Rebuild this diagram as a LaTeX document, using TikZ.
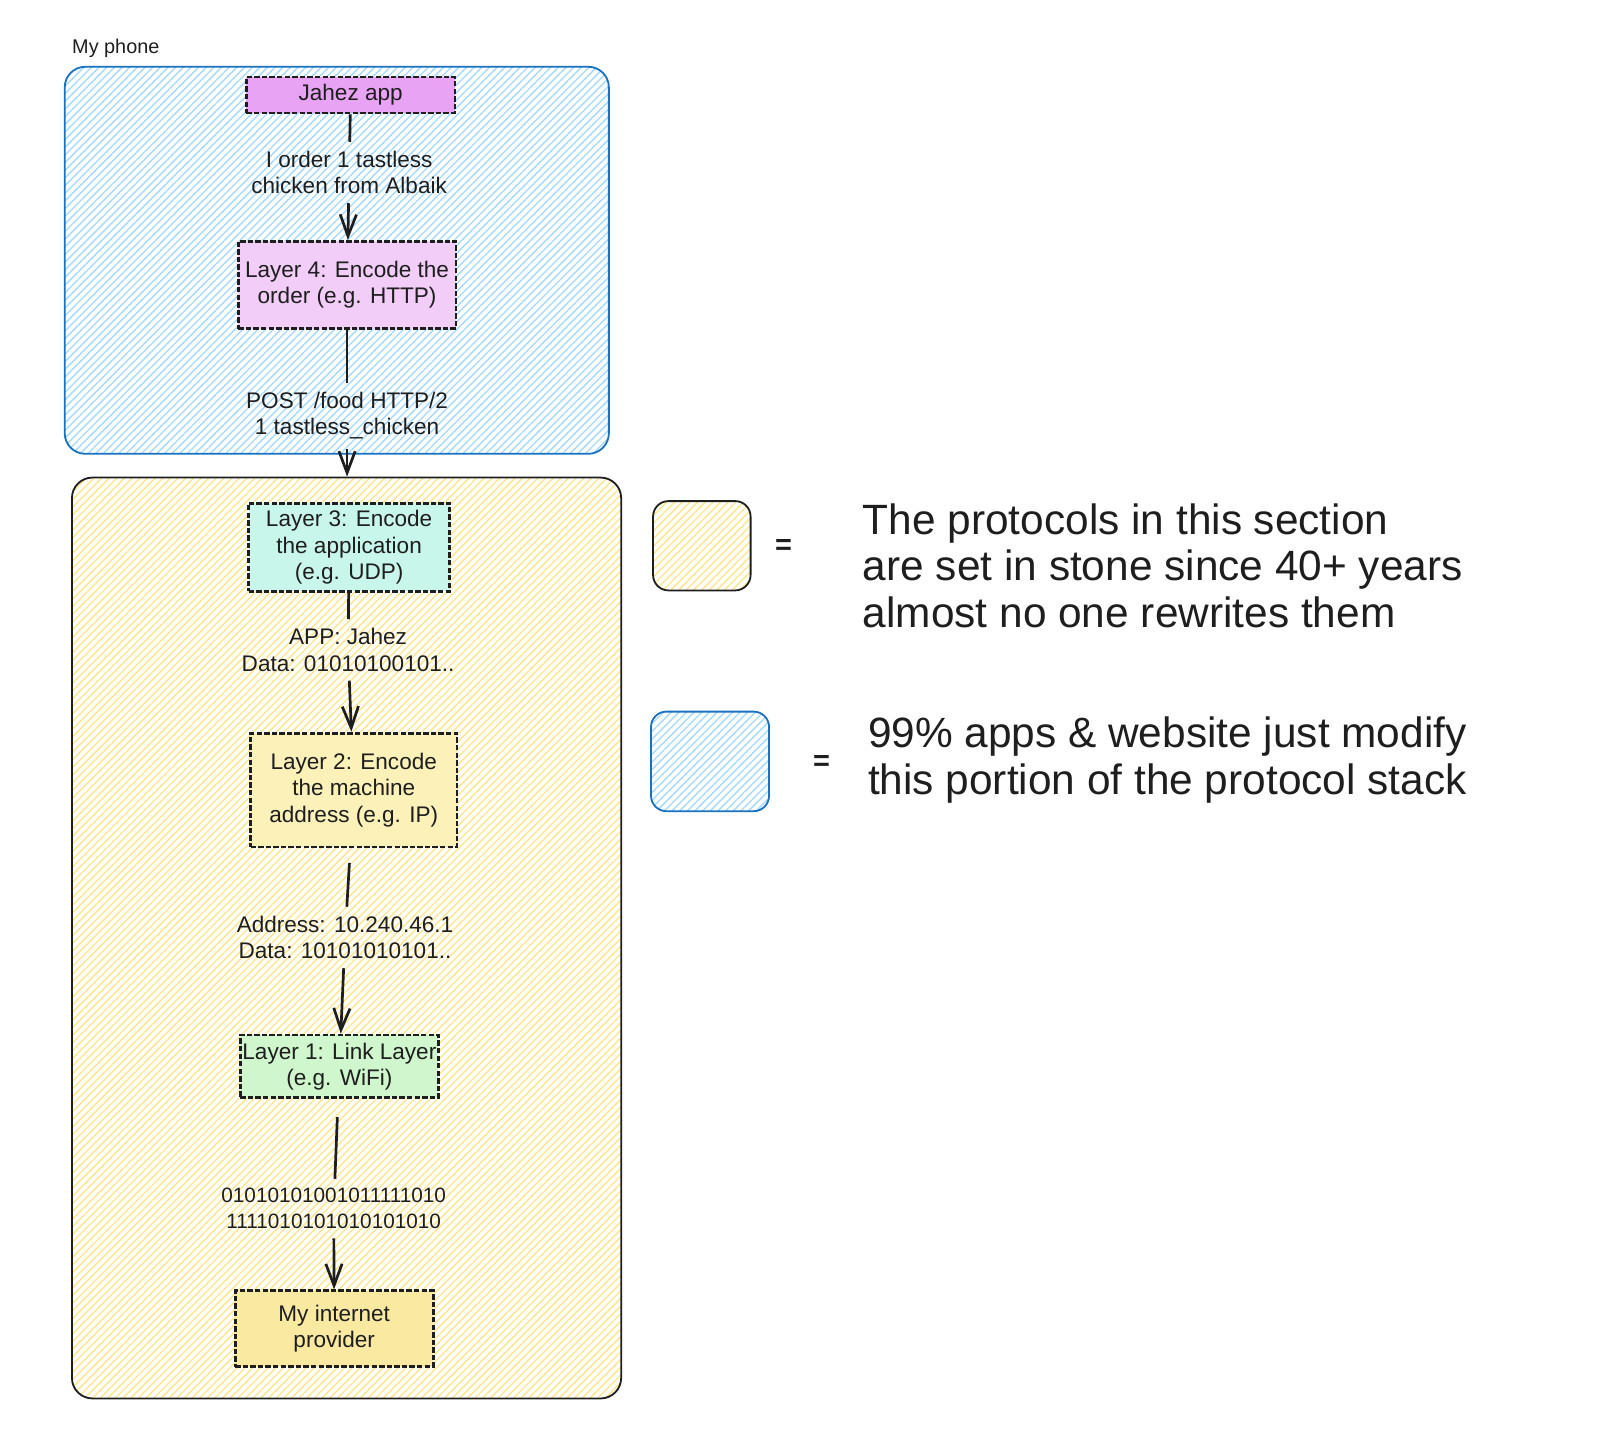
\documentclass[tikz,border=0pt]{standalone}
\usepackage{fontspec}
\setmainfont{Liberation Sans}
\usetikzlibrary{arrows.meta,patterns.meta}
\definecolor{ink}{HTML}{1E1E1E}
\definecolor{phoneline}{HTML}{1971C2}
\definecolor{phonehatch}{HTML}{A5D8FF}
\definecolor{stackhatch}{HTML}{FFE58A}
\definecolor{jahezfill}{HTML}{E9A3F5}
\definecolor{httpfill}{HTML}{F2CDF7}
\definecolor{udpfill}{HTML}{C9F6EB}
\definecolor{ipfill}{HTML}{FCF1B9}
\definecolor{wififill}{HTML}{CFF6CC}
\definecolor{ispfill}{HTML}{FAE9A1}
\begin{document}
\begin{tikzpicture}[x=0.02cm,y=-0.02cm,>={Straight Barb[length=12pt,width=9pt]},
box/.style = {draw=ink, line width=1.5pt, dash pattern=on 3pt off 1.2pt, align=center, text=ink, font=\fontsize{12.5}{14.5}\selectfont, inner sep=0pt},
lbl/.style = {align=center, text=ink, font=\fontsize{12.5}{14.5}\selectfont, inner sep=5pt},
area/.style = {rounded corners=0.4cm, line width=1pt, inner sep=0pt},
phonearea/.style = {area, draw=phoneline, pattern={Lines[angle=45,distance=3pt,line width=0.75pt]}, pattern color=phonehatch},
stackarea/.style = {area, draw=ink, pattern={Lines[angle=45,distance=3pt,line width=0.75pt]}, pattern color=stackhatch},
legend/.style = {anchor=west, align=left, text=ink, font=\fontsize{23.5}{26}\selectfont, inner sep=0pt},
link/.style = {draw=ink, line width=1.5pt},
]
\useasboundingbox (0,0) rectangle (1566,1392);

% the two areas
\node (phone) at (328,253.5)[phonearea,minimum width=10.6cm,minimum height=7.54cm] {};
\node (stack) at (337.5,913.5)[stackarea,minimum width=10.7cm,minimum height=17.94cm] {};
\node (phonename) at (70,47)[anchor=west,text=ink,font=\fontsize{11}{13}\selectfont,inner sep=0pt] {My phone};

% layers
\node (jahez) at (341.5,92.5)[box,fill=jahezfill,minimum width=4.06cm,minimum height=0.7cm] {Jahez app};
\node (http) at (338,277.5)[box,fill=httpfill,minimum width=4.24cm,minimum height=1.7cm] {Layer 4: Encode the\\order (e.g. HTTP)};
\node (udp) at (340,533)[box,fill=udpfill,minimum width=3.92cm,minimum height=1.72cm] {Layer 3: Encode\\the application\\(e.g. UDP)};
\node (ip) at (344.5,769.5)[box,fill=ipfill,minimum width=4.02cm,minimum height=2.22cm] {Layer 2: Encode\\the machine\\address (e.g. IP)};
\node (wifi) at (330.5,1038.5)[box,fill=wififill,minimum width=3.86cm,minimum height=1.22cm] {Layer 1: Link Layer\\(e.g. WiFi)};
\node (isp) at (325.5,1294)[box,fill=ispfill,minimum width=3.86cm,minimum height=1.48cm] {My internet\\provider};

% what travels between them
\node (order) at (340,168)[lbl] {I order 1 tastless\\chicken from Albaik};
\node (post) at (338,405)[lbl] {POST /food HTTP/2\\1 tastless\_chicken};
\node (app) at (339,633)[lbl] {APP: Jahez\\Data: 01010100101..};
\node (addr) at (336,913)[lbl] {Address: 10.240.46.1\\Data: 10101010101..};
\node (bits) at (325,1177)[lbl,font=\fontsize{11.5}{14.5}\selectfont] {01010101001011111010\\1111010101010101010};

\draw[link] (jahez)--(order);
\draw[link,->] (order)--(http);
\draw[link] (http)--(post);
\draw[link,->] (post)--(post |- stack.north);
\draw[link] (udp)--(app);
\draw[link,->] (app)--(ip);
\draw[link,shorten <=8pt] (ip)--(addr);
\draw[link,->] (addr)--(wifi);
\draw[link,shorten <=10pt] (wifi)--(bits);
\draw[link,->] (bits)--(isp);

% legend
\node (stackkey) at (683.5,531.5)[stackarea,rounded corners=0.3cm,minimum width=1.9cm,minimum height=1.74cm] {};
\node (stackeq) at (763,533)[text=ink,font=\fontsize{16}{18}\selectfont\bfseries] {=};
\node (stacknote) at (840,551)[legend] {The protocols in this section\\are set in stone since 40+ years\\almost no one rewrites them};
\node (phonekey) at (691.5,741.5)[phonearea,rounded corners=0.3cm,minimum width=2.3cm,minimum height=1.94cm] {};
\node (phoneeq) at (800,743)[text=ink,font=\fontsize{16}{18}\selectfont\bfseries] {=};
\node (phonenote) at (845,740)[legend] {99\% apps \& website just modify\\this portion of the protocol stack};
\end{tikzpicture}
\end{document}
